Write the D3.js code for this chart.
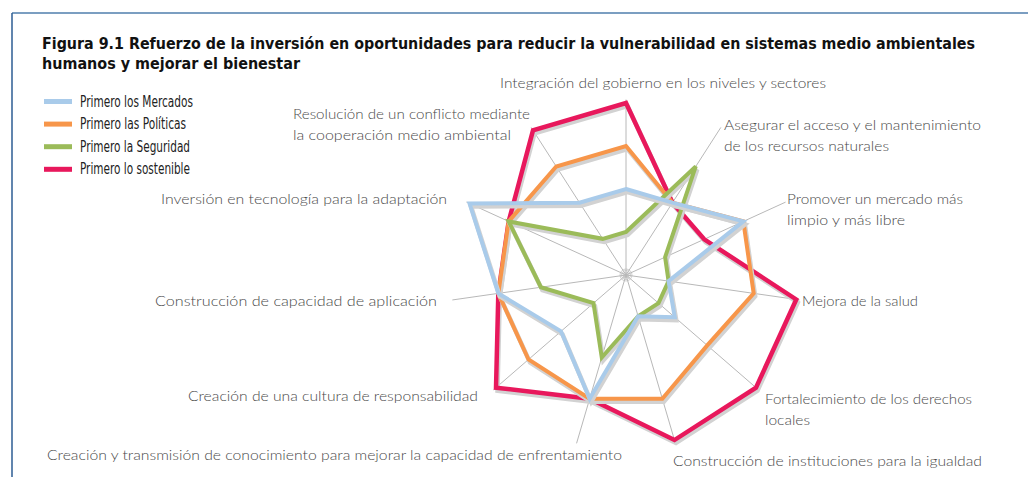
<!DOCTYPE html>
<html><head><meta charset="utf-8">
<script src="https://cdn.jsdelivr.net/npm/d3@7"></script>
<style>body{margin:0;background:#fff}svg{display:block}</style>
</head><body>
<svg id="c" width="1028" height="477"></svg>
<script>
// ---- data ----
const axes = [
  "Integración del gobierno en los niveles y sectores",
  "Asegurar el acceso y el mantenimiento de los recursos naturales",
  "Promover un mercado más limpio y más libre",
  "Mejora de la salud",
  "Fortalecimiento de los derechos locales",
  "Construcción de instituciones para la igualdad",
  "Creación y transmisión de conocimiento para mejorar la capacidad de enfrentamiento",
  "Creación de una cultura de responsabilidad",
  "Construcción de capacidad de aplicación",
  "Inversión en tecnología para la adaptación",
  "Resolución de un conflicto mediante la cooperación medio ambiental"
];
const seriesNames = ["Primero los Mercados", "Primero las Políticas", "Primero la Seguridad", "Primero lo sostenible"];
const mercados   = [2, 2, 3, 1, 1.5, 1, 3, 2, 3, 4, 2];
const politicas  = [3, 2, 3, 3, 2.5, 3, 3, 3, 3, 3, 3];
const seguridad  = [1, 3, 1, 1, 1, 1, 2, 1, 2, 3, 1];
const sostenible = [4, 2, 2, 4, 4, 4, 3, 4, 3, 3, 4];
const titleLines = [
  "Figura 9.1 Refuerzo de la inversión en oportunidades para reducir la vulnerabilidad en sistemas medio ambientales",
  "humanos y mejorar el bienestar"
];

// ---- layout / style ----
const colors = ["#a9cbea", "#f7964a", "#9bbb59", "#e8185c"];
const values = [mercados, politicas, seguridad, sostenible];
const cx = 626, cy = 275;
const labelLayout = [
  {lines: ["Integración del gobierno en los niveles y sectores"], x: 500, y: 88, w: [326]},
  {lines: ["Asegurar el acceso y el mantenimiento", "de los recursos naturales"], x: 724, y: 130, w: [257, 165]},
  {lines: ["Promover un mercado más", "limpio y más libre"], x: 787, y: 204, w: [176, 118]},
  {lines: ["Mejora de la salud"], x: 802, y: 306, w: [116]},
  {lines: ["Fortalecimiento de los derechos", "locales"], x: 765, y: 404, w: [207, 45]},
  {lines: ["Construcción de instituciones para la igualdad"], x: 673, y: 466, w: [309]},
  {lines: ["Creación y transmisión de conocimiento para mejorar la capacidad de enfrentamiento"], x: 47, y: 460, w: [575]},
  {lines: ["Creación de una cultura de responsabilidad"], x: 188, y: 401, w: [290]},
  {lines: ["Construcción de capacidad de aplicación"], x: 155, y: 306, w: [282]},
  {lines: ["Inversión en tecnología para la adaptación"], x: 161, y: 204, w: [286]},
  {lines: ["Resolución de un conflicto mediante", "la cooperación medio ambiental"], x: 293, y: 119, w: [237, 218]}
];

const svg = d3.select("#c");
// frame
svg.append("line").attr("x1", 12).attr("y1", 13).attr("x2", 1028).attr("y2", 13)
  .attr("stroke", "#4f7eac").attr("stroke-width", 1.5);
svg.append("line").attr("x1", 12).attr("y1", 13).attr("x2", 12).attr("y2", 477)
  .attr("stroke", "#2d5d93").attr("stroke-width", 1.5);

// title
const tw = [933, 258];
svg.selectAll("text.title").data(titleLines).join("text").attr("class", "title")
  .attr("x", 42).attr("y", (d, i) => 49 + i * 20)
  .attr("textLength", (d, i) => tw[i]).attr("lengthAdjust", "spacingAndGlyphs")
  .attr("font-family", "'Liberation Sans Narrow','DejaVu Sans Condensed',sans-serif")
  .attr("font-weight", "bold").attr("font-size", 16.5).attr("fill", "#111").text(d => d);

// legend
const legW = [113, 106, 110, 110];
const leg = svg.append("g");
seriesNames.forEach((nm, i) => {
  const y = 101.5 + i * 22.6;
  leg.append("line").attr("x1", 44).attr("x2", 72).attr("y1", y).attr("y2", y)
    .attr("stroke", colors[i]).attr("stroke-width", 5);
  leg.append("text").attr("x", 80).attr("y", y + 5).text(nm)
    .attr("textLength", legW[i]).attr("lengthAdjust", "spacingAndGlyphs")
    .attr("font-family", "'Liberation Sans Narrow','DejaVu Sans Condensed',sans-serif")
    .attr("font-size", 15).attr("fill", "#222");
});

// radar
const n = axes.length;
const angle = d3.scaleLinear().domain([0, n]).range([0, 2 * Math.PI]);
const r = d3.scaleLinear().domain([0, 4]).range([0, 172]);
const g = svg.append("g").attr("transform", `translate(${cx},${cy})`);

[1.5, 3, 4.5, 6].forEach(rr => g.append("circle").attr("r", rr).attr("fill", "none")
  .attr("stroke", "#c4c4c4").attr("stroke-width", 0.8));

g.selectAll("line.spoke").data(axes).join("line").attr("class", "spoke")
  .attr("x1", 0).attr("y1", 0)
  .attr("x2", (d, i) => Math.sin(angle(i)) * r(4.08))
  .attr("y2", (d, i) => -Math.cos(angle(i)) * r(4.08))
  .attr("stroke", "#b8b8b8").attr("stroke-width", 1);

const radial = d3.lineRadial().angle((d, i) => angle(i)).radius(d => r(d)).curve(d3.curveLinearClosed);
const order = [3, 1, 2, 0];
order.forEach(si => {
  g.append("path").attr("d", radial(values[si])).attr("fill", "none")
    .attr("stroke", "#d2d2d2").attr("stroke-width", 4.5).attr("stroke-linejoin", "miter")
    .attr("transform", "translate(1.5,3)");
  g.append("path").attr("d", radial(values[si])).attr("fill", "none")
    .attr("stroke", colors[si]).attr("stroke-width", si === 3 ? 4.5 : 4).attr("stroke-linejoin", "miter");
});

// axis labels
labelLayout.forEach(L => {
  L.lines.forEach((t, j) => {
    svg.append("text").attr("x", L.x).attr("y", L.y + j * 21).text(t)
      .attr("textLength", L.w[j]).attr("lengthAdjust", "spacingAndGlyphs")
      .attr("font-family", "'Lato','Noto Sans',sans-serif").attr("font-weight", 300)
      .attr("font-size", 14.5).attr("fill", "#4a4a4a");
  });
});
</script>
</body></html>
